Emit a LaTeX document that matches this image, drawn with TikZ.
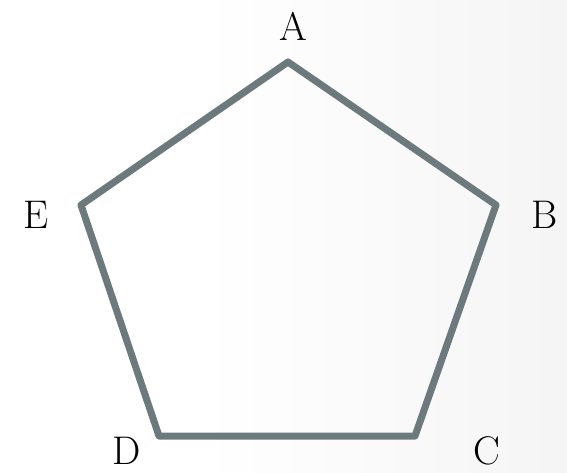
\documentclass[tikz,border=0pt]{standalone}
\begin{document}
\definecolor{edgegray}{RGB}{108,122,125}
\begin{tikzpicture}[x=1pt,y=-1pt,
  edge/.style={draw=edgegray,line width=7pt,line join=round},
  lbl/.style={inner sep=0pt,font=\fontsize{40}{44}\selectfont,text=black}]
\useasboundingbox (0,0) rectangle (567,473);
\fill[white] (0,0) rectangle (567,473);
\shade[left color=white,right color=black!4] (200,0) rectangle (567,473);
\coordinate (a) at (288,62);
\coordinate (b) at (496,205);
\coordinate (c) at (415,436);
\coordinate (d) at (159,436);
\coordinate (e) at (81,205);
\draw[edge] (a) -- (b) -- (c) -- (d) -- (e) -- cycle;
\node[lbl] (la) at (293,26) {A};
\node[lbl] (lb) at (545,215) {B};
\node[lbl] (lc) at (487,451) {C};
\node[lbl] (ld) at (127,451) {D};
\node[lbl] (le) at (36,215) {E};
\end{tikzpicture}
\end{document}
